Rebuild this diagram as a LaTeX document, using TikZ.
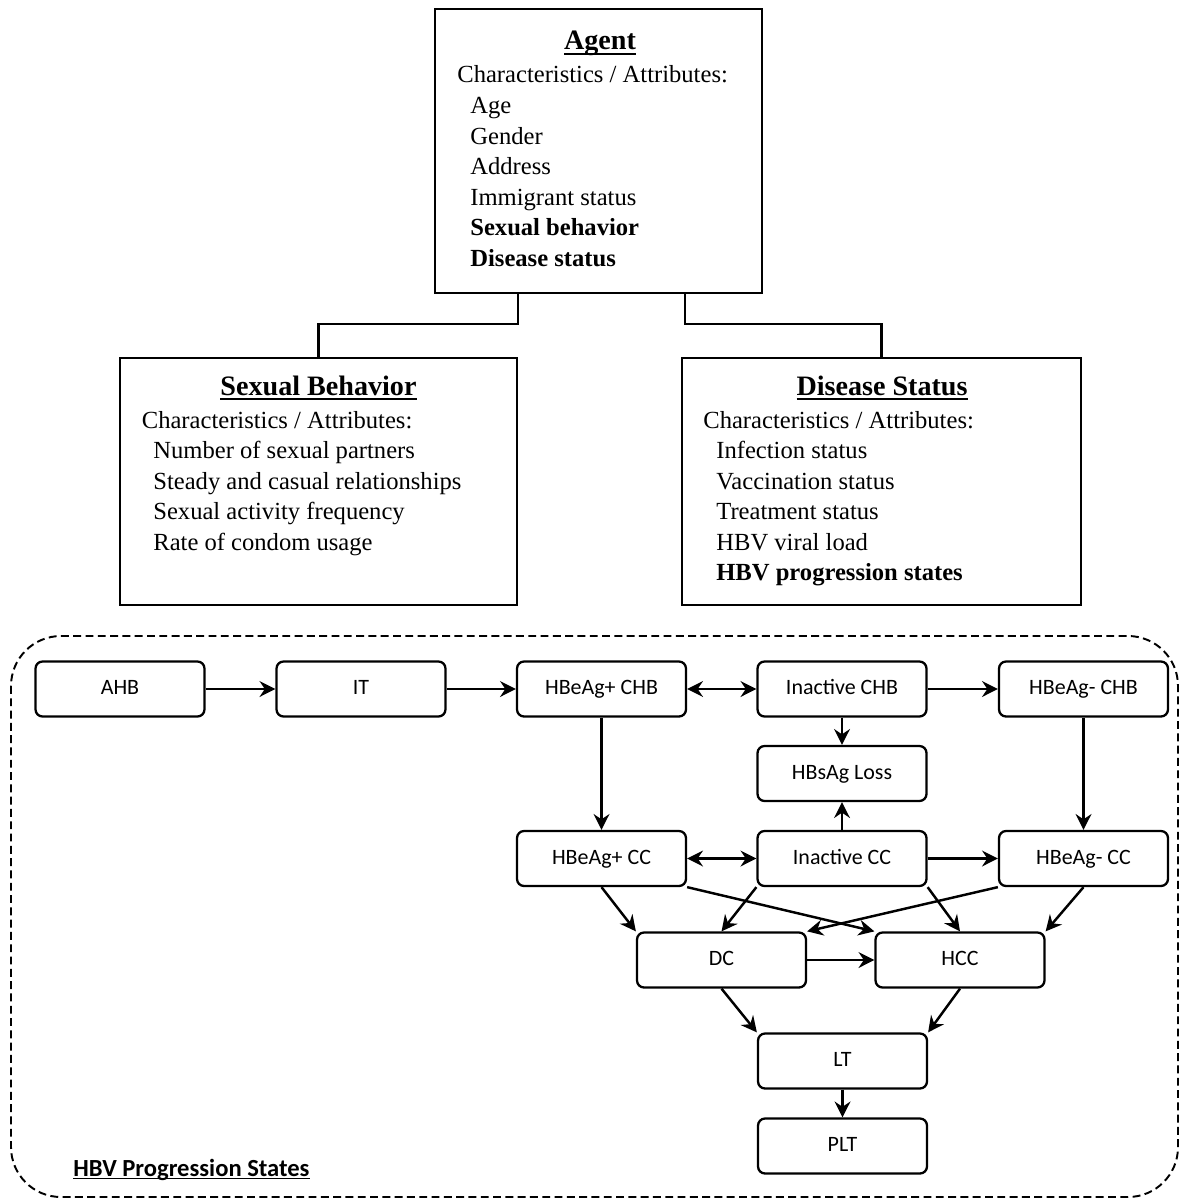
\documentclass[tikz,border=0pt]{standalone}
\usepackage{fontspec}
\setmainfont{Liberation Serif}
\newfontfamily\hbvfont{Carlito}
\usetikzlibrary{arrows.meta}
\newcommand\myul[2][2.6pt]{\setbox0\hbox{#2}\rlap{\rule[-#1]{\wd0}{0.8pt}}\box0}
\tikzset{
  bigbox/.style={draw, line width=1.3pt, inner sep=0pt},
  titletext/.style={anchor=base, inner sep=0pt, font=\fontsize{16}{19}\selectfont\bfseries},
  attr/.style={anchor=base west, inner sep=0pt, font=\fontsize{14}{17}\selectfont},
  state/.style={draw, rounded corners=4pt, line width=1.3pt, minimum width=3.38cm,
    minimum height=1.1cm, inner sep=0pt, text height=8.6pt, text depth=2.2pt,
    font=\hbvfont\fontsize{12.5}{14}\selectfont},
  arr/.style={line width=1.4pt, -{Stealth[length=9pt,width=9pt,inset=3pt]}},
  darr/.style={line width=1.4pt, {Stealth[length=9pt,width=9pt,inset=3pt]}-{Stealth[length=9pt,width=9pt,inset=3pt]}},
  conn/.style={line width=1.3pt},
  frame/.style={line width=1.1pt, dash pattern=on 4.5pt off 2.5pt, rounded corners=1cm}
}
\begin{document}
\begin{tikzpicture}[x=0.02cm,y=-0.02cm]
\useasboundingbox (0,0) rectangle (1181,1199);

% ---------- Agent ----------
\node[bigbox, minimum width=6.54cm, minimum height=5.68cm] (agent) at (598.5,151) {};
\node[titletext] (agentT) at (600,50) {\myul{Agent}};
\node[attr] (agentC) at (457,83) {Characteristics / Attributes:};
\node[attr] (agent1) at (470,113.6) {Age};
\node[attr] (agent2) at (470,144.2) {Gender};
\node[attr] (agent3) at (470,174.8) {Address};
\node[attr] (agent4) at (470,205.4) {Immigrant status};
\node[attr] (agent5) at (470,236) {\bfseries Sexual behavior};
\node[attr] (agent6) at (470,266.6) {\bfseries Disease status};

% ---------- Sexual Behavior ----------
\node[bigbox, minimum width=7.94cm, minimum height=4.94cm] (sexual) at (318.5,481.5) {};
\node[titletext] (sexualT) at (318.5,395) {\myul{Sexual Behavior}};
\node[attr] (sexualC) at (141.5,428) {Characteristics / Attributes:};
\node[attr] (sexual1) at (153,458.5) {Number of sexual partners};
\node[attr] (sexual2) at (153,489) {Steady and casual relationships};
\node[attr] (sexual3) at (153,519.5) {Sexual activity frequency};
\node[attr] (sexual4) at (153,550) {Rate of condom usage};

% ---------- Disease Status ----------
\node[bigbox, minimum width=7.98cm, minimum height=4.94cm] (disease) at (881.5,481.5) {};
\node[titletext] (diseaseT) at (882,395) {\myul{Disease Status}};
\node[attr] (diseaseC) at (703,428) {Characteristics / Attributes:};
\node[attr] (disease1) at (716,458.5) {Infection status};
\node[attr] (disease2) at (716,489) {Vaccination status};
\node[attr] (disease3) at (716,519.5) {Treatment status};
\node[attr] (disease4) at (716,550) {HBV viral load};
\node[attr] (disease5) at (716,580.5) {\bfseries HBV progression states};

% connectors
\draw[conn] ([xshift=-1.61cm]agent.south) -- ++(0,30) -| (sexual.north);
\draw[conn] ([xshift=1.73cm]agent.south) -- ++(0,30) -| (disease.north);

% ---------- HBV progression states ----------
\draw[frame] (11,636) rectangle (1178,1197);
\node[anchor=base west, inner sep=0pt, font=\hbvfont\fontsize{14}{17}\selectfont\bfseries] (hbvlabel) at (73,1176) {\myul[1.9pt]{HBV Progression States}};

\node[state] (AHB) at (120,689) {AHB};
\node[state] (IT) at (361,689) {IT};
\node[state] (pCHB) at (601.5,689) {HBeAg+ CHB};
\node[state] (iCHB) at (842,689) {Inactive CHB};
\node[state] (nCHB) at (1083.5,689) {HBeAg- CHB};
\node[state] (loss) at (842,773.5) {HBsAg Loss};
\node[state] (pCC) at (601.5,858.5) {HBeAg+ CC};
\node[state] (iCC) at (842,858.5) {Inactive CC};
\node[state] (nCC) at (1083.5,858.5) {HBeAg- CC};
\node[state] (DC) at (721.5,960) {DC};
\node[state] (HCC) at (960,960) {HCC};
\node[state] (LT) at (842.5,1061) {LT};
\node[state] (PLT) at (842.5,1146) {PLT};

\draw[arr] (AHB) -- (IT);
\draw[arr] (IT) -- (pCHB);
\draw[darr] (pCHB) -- (iCHB);
\draw[arr] (iCHB) -- (nCHB);
\draw[arr] (iCHB) -- (loss);
\draw[arr] (pCHB) -- (pCC);
\draw[arr] (nCHB) -- (nCC);
\draw[arr] (iCC) -- (loss);
\draw[darr] (pCC) -- (iCC);
\draw[arr] (iCC) -- (nCC);
\draw[arr] (pCC.south) -- (DC.north west);
\draw[arr] (pCC.south east) -- (HCC.north west);
\draw[arr] (iCC.south west) -- (DC.north);
\draw[arr] (iCC.south east) -- (HCC.north);
\draw[arr] (nCC.south west) -- (DC.north east);
\draw[arr] (nCC.south) -- (HCC.north east);
\draw[arr] (DC) -- (HCC);
\draw[arr] (DC.south) -- (LT.north west);
\draw[arr] (HCC.south) -- (LT.north east);
\draw[arr] (LT) -- (PLT);
\end{tikzpicture}
\end{document}
